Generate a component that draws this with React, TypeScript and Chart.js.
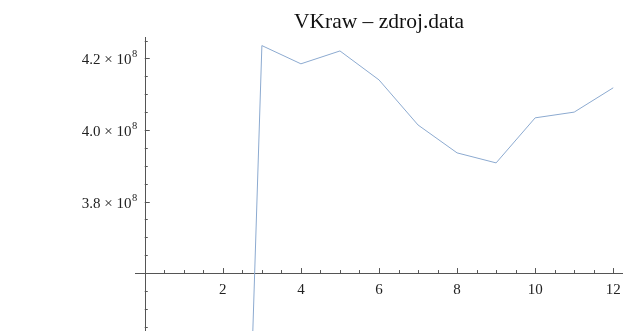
import React, { useEffect, useRef } from "react";
import { Chart, registerables } from "chart.js";

Chart.register(...registerables);

// Sample index and measured VKraw values
const xValues = [2, 3, 4, 5, 6, 7, 8, 9, 10, 11, 12];
const vkraw = [0.8e8, 4.236e8, 4.185e8, 4.221e8, 4.14e8, 4.014e8, 3.936e8, 3.908e8, 4.034e8, 4.05e8, 4.118e8];

// Axis ticks
const xMajorTicks = [2, 4, 6, 8, 10, 12];
const xTickLabels = ["2", "4", "6", "8", "10", "12"];
const yMajorTicks = [3.8e8, 4.0e8, 4.2e8];
const yTickMantissas = ["3.8", "4.0", "4.2"];
const yTickExponent = "8";

const titleText = "VKraw \u2013 zdroj.data";

const X_MIN = -0.25;
const X_MAX = 12.25;
const Y_MIN = 3.438e8;
const Y_MAX = 4.26e8;
const AXIS_X = 0; // y axis crosses at x = 0
const AXIS_Y = 3.6e8; // x axis crosses at y = 3.6e8

const SERIF = "'Liberation Serif', 'Times New Roman', serif";

const mathAxesPlugin = {
  id: "mathAxes",
  beforeDatasetsDraw(chart: any) {
    const { ctx, chartArea, scales } = chart;
    const xs = scales.x;
    const ys = scales.y;
    const axisPxY = ys.getPixelForValue(AXIS_Y);
    const axisPxX = xs.getPixelForValue(AXIS_X);

    ctx.save();
    ctx.strokeStyle = "#555555";
    ctx.lineWidth = 1;

    // axis lines
    ctx.beginPath();
    ctx.moveTo(chartArea.left, Math.round(axisPxY) + 0.5);
    ctx.lineTo(chartArea.right, Math.round(axisPxY) + 0.5);
    ctx.moveTo(Math.round(axisPxX) + 0.5, chartArea.top);
    ctx.lineTo(Math.round(axisPxX) + 0.5, chartArea.bottom);
    ctx.stroke();

    // x ticks, every 0.5, longer at labelled values
    ctx.beginPath();
    for (let i = 1; i <= 24; i++) {
      const v = i * 0.5;
      const px = Math.round(xs.getPixelForValue(v)) + 0.5;
      const major = xMajorTicks.includes(v);
      const len = major ? 5 : 3;
      ctx.moveTo(px, axisPxY);
      ctx.lineTo(px, axisPxY - len);
    }
    ctx.stroke();

    // y ticks, every 0.05e8, longer at labelled values
    ctx.beginPath();
    for (let k = -3; k <= 13; k++) {
      const v = AXIS_Y + k * 0.05e8;
      if (k === 0) continue;
      if (v < Y_MIN || v > Y_MAX) continue;
      const py = Math.round(ys.getPixelForValue(v)) + 0.5;
      const major = k % 4 === 0;
      const len = major ? 5 : 3;
      ctx.moveTo(axisPxX, py);
      ctx.lineTo(axisPxX + len, py);
    }
    ctx.stroke();

    // x tick labels
    ctx.fillStyle = "#222222";
    ctx.font = `15px ${SERIF}`;
    ctx.textAlign = "center";
    ctx.textBaseline = "alphabetic";
    xMajorTicks.forEach((v, i) => {
      ctx.fillText(xTickLabels[i], xs.getPixelForValue(v), axisPxY + 21);
    });

    // y tick labels in scientific form
    yMajorTicks.forEach((v, i) => {
      const py = ys.getPixelForValue(v);
      const base = `${yTickMantissas[i]} \u00d7 10`;
      ctx.font = `15px ${SERIF}`;
      const baseW = ctx.measureText(base).width;
      ctx.font = `10.5px ${SERIF}`;
      const supW = ctx.measureText(yTickExponent).width;
      const right = axisPxX - 8;
      const startX = right - supW - baseW;
      ctx.textAlign = "left";
      ctx.font = `15px ${SERIF}`;
      ctx.fillText(base, startX, py + 6);
      ctx.font = `10.5px ${SERIF}`;
      ctx.fillText(yTickExponent, startX + baseW + 0.5, py - 1);
    });

    // title
    ctx.fillStyle = "#111111";
    ctx.font = `21.5px ${SERIF}`;
    ctx.textAlign = "center";
    ctx.fillText(titleText, (chartArea.left + chartArea.right) / 2, 28);
    ctx.restore();
  },
};

export default function App() {
  const canvasRef = useRef<HTMLCanvasElement | null>(null);

  useEffect(() => {
    document.body.style.margin = "0";
    const canvas = canvasRef.current;
    if (!canvas) return;
    const chart = new Chart(canvas, {
      type: "scatter",
      data: {
        datasets: [
          {
            label: "VKraw",
            data: xValues.map((x, i) => ({ x, y: vkraw[i] })),
            showLine: true,
            borderColor: "rgb(140,170,208)",
            borderWidth: 1,
            pointRadius: 0,
            tension: 0,
          },
        ],
      },
      options: {
        animation: false,
        responsive: false,
        devicePixelRatio: 1,
        layout: { padding: { left: 135, right: 2, top: 37, bottom: 0 } },
        plugins: {
          legend: { display: false },
          tooltip: { enabled: false },
          title: { display: false },
        },
        scales: {
          x: { type: "linear", min: X_MIN, max: X_MAX, display: false },
          y: { type: "linear", min: Y_MIN, max: Y_MAX, display: false },
        },
      },
      plugins: [mathAxesPlugin],
    });
    return () => chart.destroy();
  }, []);

  return (
    <div style={{ position: "absolute", left: 0, top: 0, width: 625, height: 331, background: "#ffffff" }}>
      <canvas ref={canvasRef} width={625} height={331} />
    </div>
  );
}
